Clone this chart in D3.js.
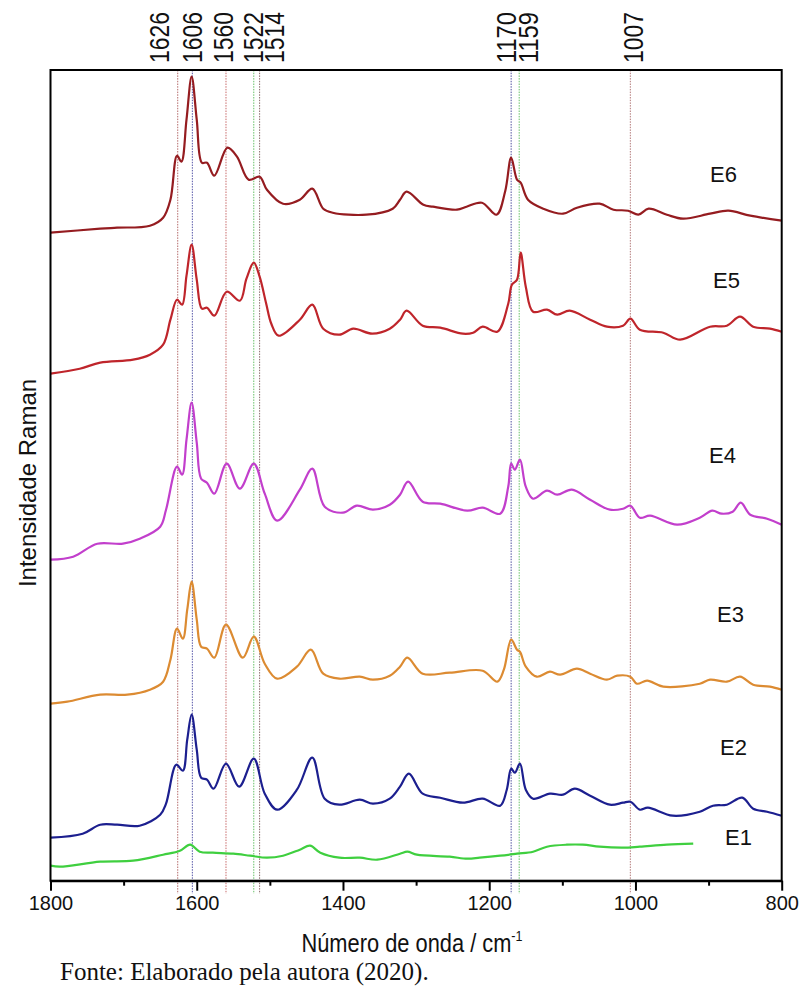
<!DOCTYPE html>
<html><head><meta charset="utf-8">
<script src="https://cdn.jsdelivr.net/npm/d3@7"></script>
<style>body{margin:0;background:#fff}</style>
</head><body><svg id="c" width="803" height="992"></svg>
<script>
// ---------- DATA (wavenumber cm-1, Raman intensity a.u. incl. vertical offset) ----------
const seriesNames = ["E6", "E5", "E4", "E3", "E2", "E1"];

const E6 = [[1800,648],[1732,652],[1709,653],[1664,655],[1646,663],[1636,681],[1627,725],[1621,719],[1614,761],[1607,804],[1600,761],[1593,718],[1586,718],[1576,705],[1558,733],[1545,724],[1529,701],[1514,704],[1504,691],[1482,677],[1459,681],[1442,692],[1427,672],[1414,668],[1368,666],[1332,672],[1322,681],[1313,689],[1290,676],[1277,674],[1244,671],[1231,674],[1210,678],[1190,666],[1178,690],[1170,723],[1162,701],[1157,698],[1147,681],[1126,672],[1099,667],[1080,673],[1049,677],[1030,671],[1010,670],[996,666],[982,672],[957,666],[935,662],[898,667],[873,670],[843,665],[800,660]];

const E5 = [[1800,507],[1760,512],[1732,518],[1687,521],[1664,526],[1646,536],[1636,561],[1627,581],[1620,576],[1614,605],[1607,636],[1600,601],[1593,572],[1586,573],[1576,565],[1559,589],[1541,580],[1532,602],[1522,618],[1514,604],[1505,577],[1498,557],[1488,545],[1459,561],[1442,576],[1427,552],[1405,546],[1386,552],[1360,547],[1336,552],[1322,561],[1313,570],[1291,555],[1267,553],[1236,547],[1222,548],[1209,554],[1189,549],[1174,577],[1169,596],[1162,601],[1157,628],[1150,594],[1140,569],[1121,571],[1107,566],[1090,570],[1062,561],[1039,554],[1017,555],[1007,562],[994,551],[962,548],[939,541],[898,554],[875,555],[857,564],[839,554],[816,552],[800,549]];

const E4 = [[1800,321],[1769,324],[1736,337],[1701,337],[1678,342],[1650,354],[1642,371],[1627,414],[1620,406],[1614,441],[1607,478],[1600,438],[1594,402],[1586,398],[1576,387],[1559,417],[1541,392],[1522,417],[1507,387],[1490,360],[1459,391],[1442,412],[1425,374],[1400,368],[1381,375],[1359,371],[1336,376],[1322,386],[1311,399],[1291,379],[1267,377],[1230,370],[1209,373],[1185,367],[1174,394],[1170,417],[1165,411],[1158,421],[1150,394],[1140,382],[1121,390],[1107,386],[1087,391],[1062,381],[1035,371],[1017,372],[1007,375],[994,363],[980,365],[943,356],[912,363],[895,370],[882,367],[867,369],[856,378],[843,366],[820,362],[800,356]];

const E3 = [[1800,177],[1777,179],[1732,186],[1695,186],[1664,191],[1646,199],[1636,221],[1627,252],[1619,242],[1613,271],[1607,299],[1600,261],[1594,234],[1586,232],[1576,223],[1560,256],[1537,223],[1522,244],[1507,217],[1490,202],[1463,214],[1444,231],[1427,207],[1405,202],[1377,204],[1359,201],[1336,205],[1322,214],[1312,223],[1291,207],[1254,208],[1209,210],[1189,199],[1180,211],[1170,241],[1162,231],[1158,229],[1150,214],[1135,204],[1117,209],[1103,206],[1080,212],[1062,207],[1039,201],[1025,205],[1007,204],[998,197],[984,200],[962,194],[912,197],[898,201],[875,199],[857,204],[839,196],[816,194],[800,191]];

const E2 = [[1800,43],[1756,47],[1732,56],[1709,56],[1678,55],[1650,66],[1642,77],[1628,116],[1619,110],[1613,141],[1607,166],[1600,131],[1594,103],[1586,101],[1577,92],[1560,117],[1542,94],[1522,122],[1507,87],[1490,71],[1463,91],[1442,123],[1425,82],[1405,76],[1377,81],[1359,77],[1336,82],[1322,94],[1310,107],[1291,87],[1267,83],[1236,78],[1209,82],[1185,75],[1176,91],[1170,112],[1165,108],[1158,117],[1150,91],[1140,82],[1117,87],[1099,86],[1083,92],[1062,85],[1035,76],[1017,78],[1007,79],[994,71],[983,73],[949,65],[912,69],[894,75],[875,76],[854,83],[839,72],[820,69],[800,65]];

const E1 = [[1800,15],[1787,14],[1732,19],[1687,20],[1646,26],[1623,30],[1609,36],[1596,29],[1578,28],[1550,27],[1527,25],[1504,23],[1482,25],[1459,31],[1445,35],[1431,28],[1405,23],[1377,23],[1353,21],[1322,27],[1312,29],[1299,26],[1254,24],[1230,22],[1213,23],[1185,25],[1162,27],[1140,29],[1121,34],[1094,36],[1072,36],[1049,34],[1017,33],[994,34],[957,36],[921,37]];

const seriesData = [E6, E5, E4, E3, E2, E1];

const peakLines = [1626, 1606, 1560, 1522, 1514, 1170, 1159, 1007];
const xTicksMajor = [1800, 1600, 1400, 1200, 1000, 800];
const xTicksMinor = [1700, 1500, 1300, 1100, 900];

// ---------- STYLE / LAYOUT ----------
const seriesColors = ["#951c20", "#bf252b", "#c23fcc", "#dc8b32", "#1c1f8f", "#3fcf3f"];
const peakColors = ["#b46a6a", "#5555a8", "#c86a6a", "#66c066", "#8a6a6a", "#5050a0", "#66c066", "#b47a7a"];
const peakLabelDx = [-18, 0, -3, -1, 15, -5, 9, 3];
const seriesLabelPos = [[710,182],[713,288],[709,463],[717,622],[720,755],[725,845]];

const L = 50.5, R = 781.7, T = 70, B = 880.7;
const svg = d3.select("#c");

const x = d3.scaleLinear().domain([1800, 800]).range([L, R]);
const y = d3.scaleLinear().domain([0, B - T]).range([B, T]);

// peak reference lines
const pk = svg.append("g");
pk.selectAll("line").data(peakLines).join("line")
  .attr("x1", d => x(d)).attr("x2", d => x(d))
  .attr("y1", T).attr("y2", B + 13)
  .attr("stroke", (d, i) => peakColors[i])
  .attr("stroke-width", 1)
  .attr("stroke-dasharray", "1.5,1.2");

// peak labels
pk.selectAll("text").data(peakLines).join("text")
  .attr("transform", (d, i) => `translate(${x(d) + peakLabelDx[i]},63) rotate(-90)`)
  .attr("dy", "0.36em")
  .attr("font-family", "'Liberation Sans Narrow','Liberation Sans',Arial,sans-serif")
  .attr("font-size", 27)
  .attr("textLength", 51)
  .attr("lengthAdjust", "spacingAndGlyphs")
  .attr("fill", "#111")
  .text(d => d);

// spectra
const line = d3.line().x(d => x(d[0])).y(d => y(d[1])).curve(d3.curveCatmullRom.alpha(0.5));
svg.append("g").selectAll("path").data(seriesData).join("path")
  .attr("d", line)
  .attr("fill", "none")
  .attr("stroke", (d, i) => seriesColors[i])
  .attr("stroke-width", 2.2)
  .attr("stroke-linejoin", "round");

// series labels
svg.append("g").selectAll("text").data(seriesNames).join("text")
  .attr("x", (d, i) => seriesLabelPos[i][0])
  .attr("y", (d, i) => seriesLabelPos[i][1])
  .attr("font-family", "'Liberation Sans',Arial,sans-serif")
  .attr("font-size", 22)
  .attr("fill", "#111")
  .text(d => d);

// frame
svg.append("rect").attr("x", L).attr("y", T).attr("width", R - L).attr("height", B - T)
  .attr("fill", "none").attr("stroke", "#000").attr("stroke-width", 2);

// x axis
const ax = svg.append("g").attr("transform", `translate(0,${B})`)
  .call(d3.axisBottom(x).tickValues(xTicksMajor).tickSize(10).tickSizeOuter(0).tickPadding(5).tickFormat(d3.format("d")));
ax.select(".domain").attr("stroke-width", 2);
ax.selectAll(".tick line").attr("stroke-width", 2);
ax.selectAll(".tick text").attr("font-family", "'Liberation Sans',Arial,sans-serif").attr("font-size", 20).attr("fill", "#111");
const axm = svg.append("g").attr("transform", `translate(0,${B})`)
  .call(d3.axisBottom(x).tickValues(xTicksMinor).tickSize(5).tickSizeOuter(0).tickFormat(""));
axm.select(".domain").remove();
axm.selectAll(".tick line").attr("stroke-width", 2);

// axis titles
const xt = svg.append("text").attr("transform", "translate(412,952) scale(0.84,1)")
  .attr("text-anchor", "middle")
  .attr("font-family", "'Liberation Sans',Arial,sans-serif")
  .attr("font-size", 26).attr("fill", "#111");
xt.append("tspan").text("Número de onda / cm");
xt.append("tspan").attr("font-size", 15).attr("dy", -11).text("-1");

svg.append("text").attr("transform", "translate(27,483) rotate(-90)")
  .attr("text-anchor", "middle").attr("dy", "0.36em")
  .attr("font-family", "'Liberation Sans',Arial,sans-serif")
  .attr("font-size", 24).attr("fill", "#111")
  .text("Intensidade Raman");

svg.append("text").attr("x", 60).attr("y", 980)
  .attr("font-family", "'Liberation Serif','Times New Roman',serif")
  .attr("font-size", 25).attr("fill", "#111")
  .text("Fonte: Elaborado pela autora (2020).");
</script>
</body></html>
